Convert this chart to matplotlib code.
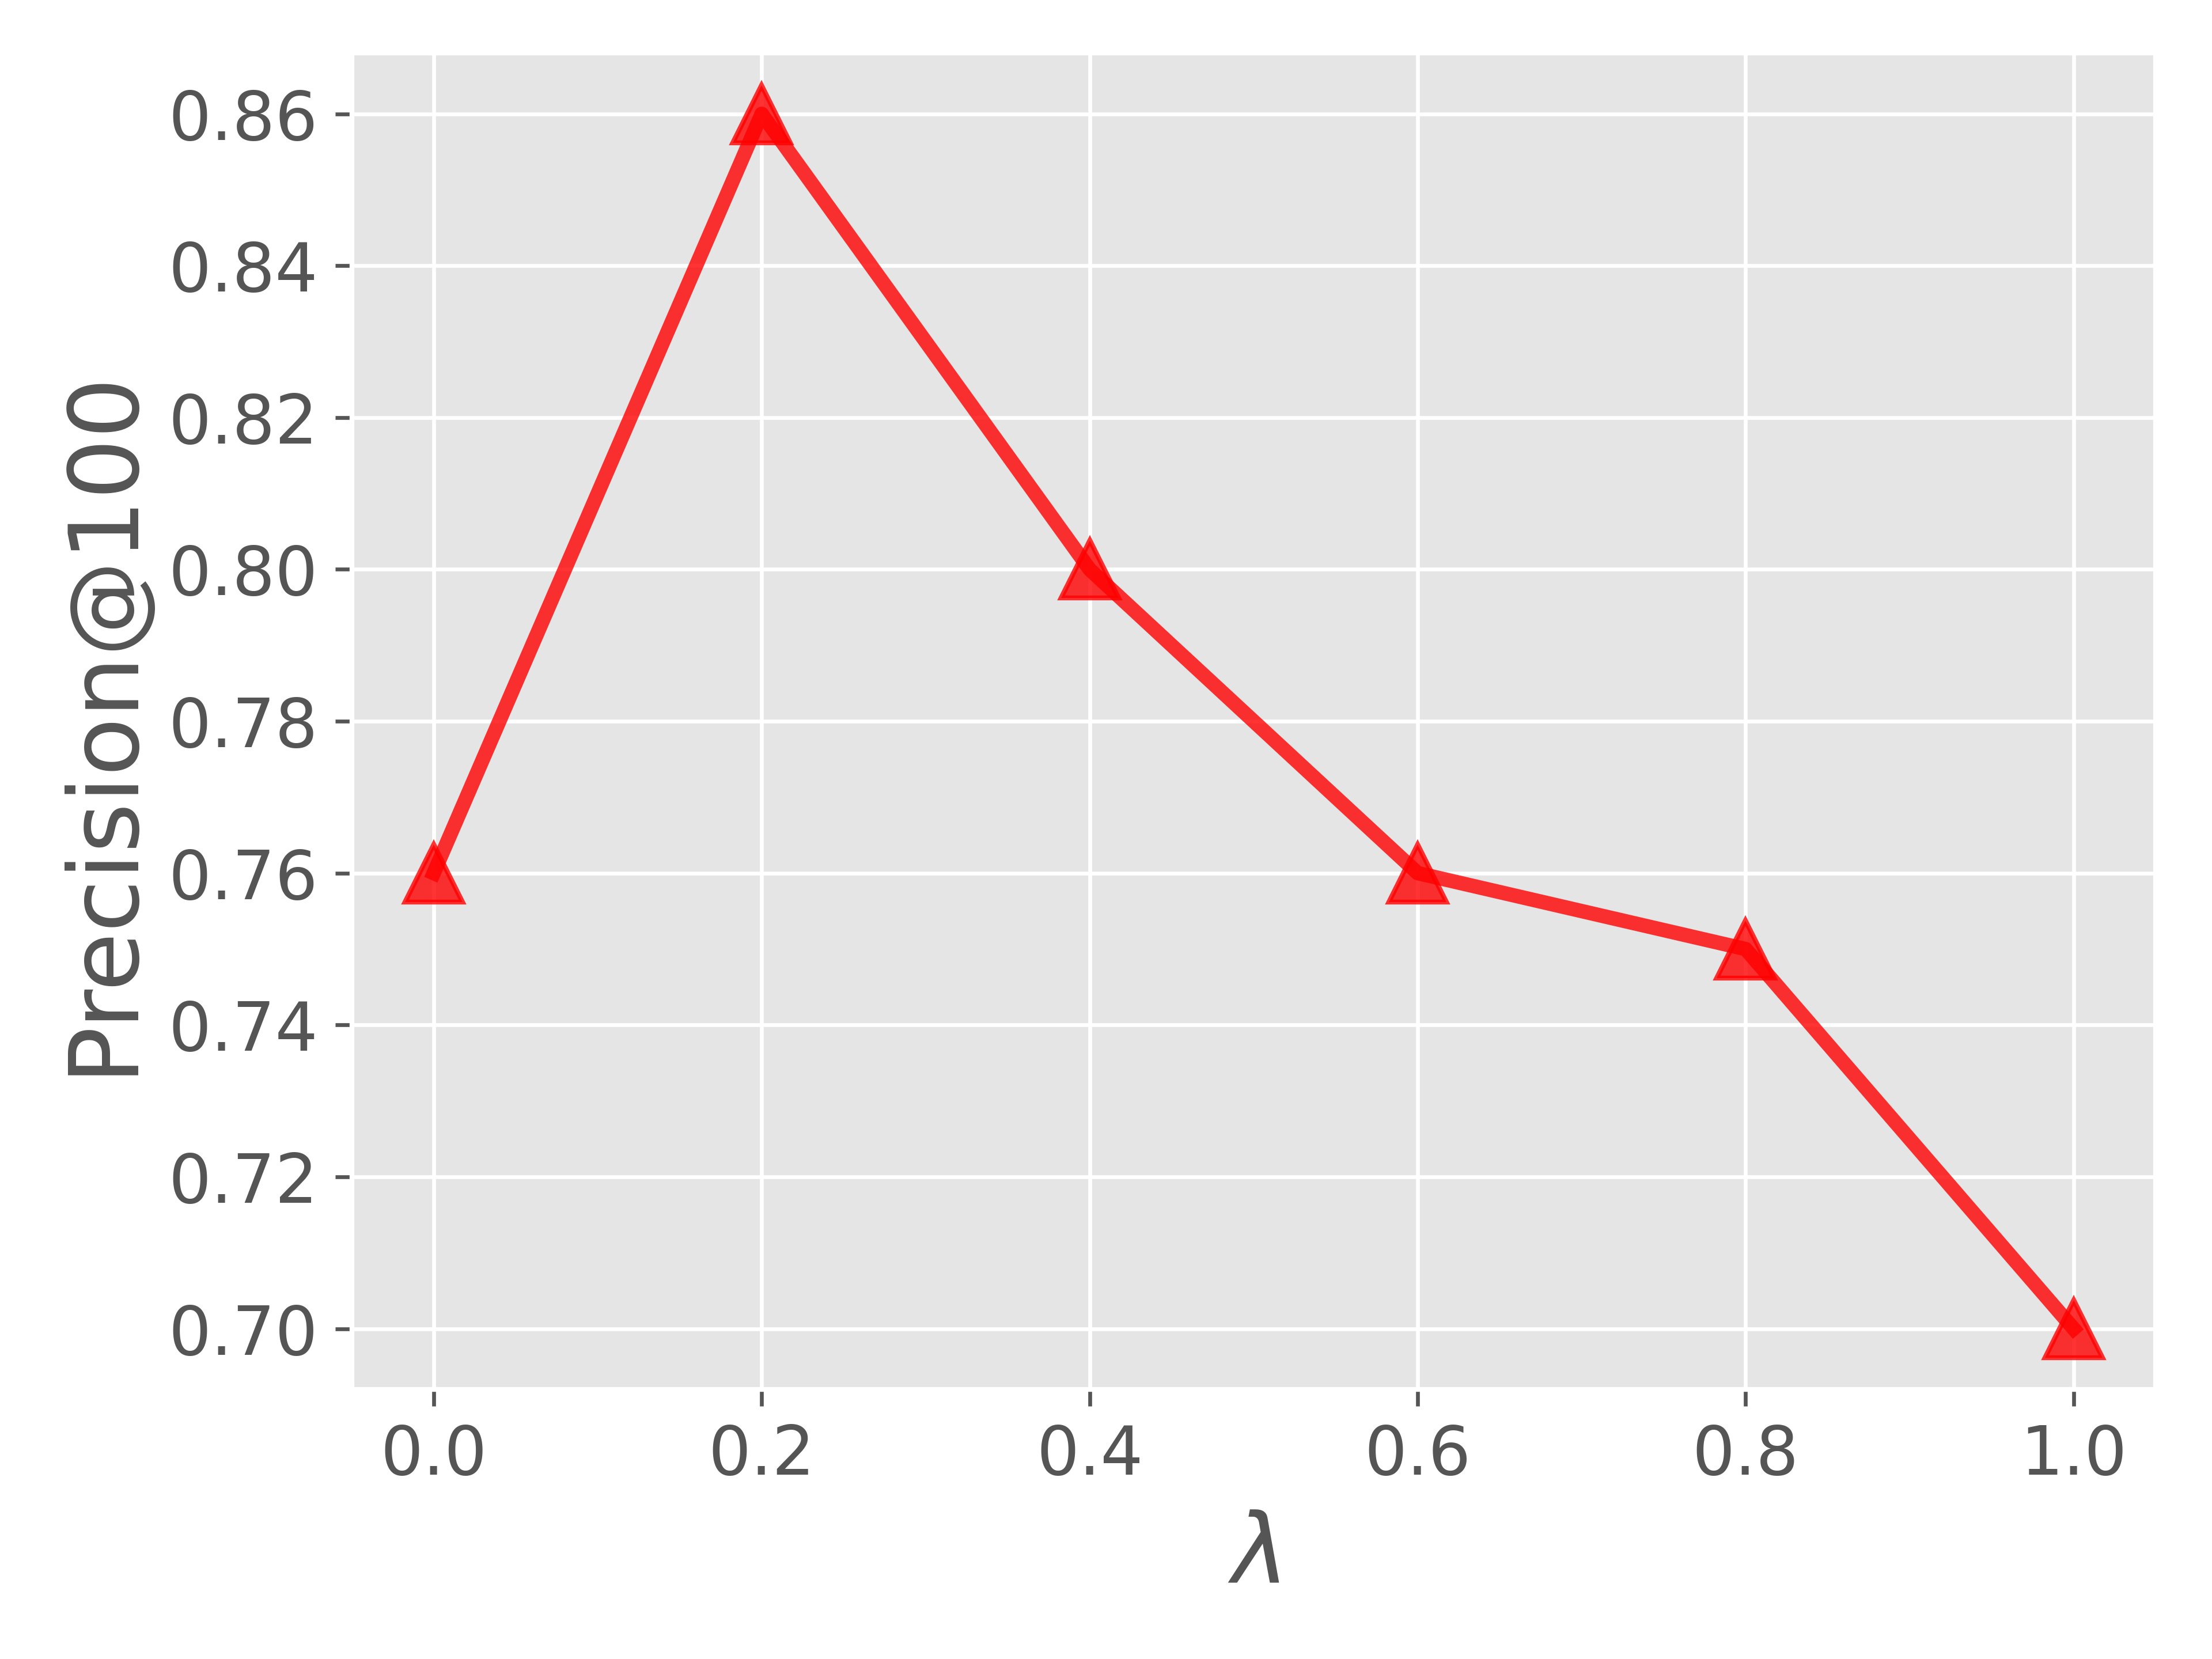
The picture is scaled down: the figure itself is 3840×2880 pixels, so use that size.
import matplotlib
matplotlib.use("Agg")
import matplotlib.pyplot as plt

plt.style.use("ggplot")

lambdas = [0.0, 0.2, 0.4, 0.6, 0.8, 1.0]
precision = [0.76, 0.86, 0.80, 0.76, 0.75, 0.70]
xticks = [0.0, 0.2, 0.4, 0.6, 0.8, 1.0]
yticks = [0.70, 0.72, 0.74, 0.76, 0.78, 0.80, 0.82, 0.84, 0.86]

fig = plt.figure(figsize=(6.4, 4.8), dpi=600)
ax = fig.add_axes([0.159, 0.1625, 0.8155, 0.8055])
ax.plot(lambdas, precision, color="red", marker="^", markersize=12,
        linewidth=3, alpha=0.8)
ax.set_xticks(xticks)
ax.set_xticklabels([f"{v:.1f}" for v in xticks])
ax.set_yticks(yticks)
ax.set_yticklabels([f"{v:.2f}" for v in yticks])
ax.tick_params(labelsize=14)
ax.set_xlabel(r"$\lambda$", fontsize=20)
ax.set_ylabel("Precision@100", fontsize=20)
fig.savefig("out.png", dpi=600)
